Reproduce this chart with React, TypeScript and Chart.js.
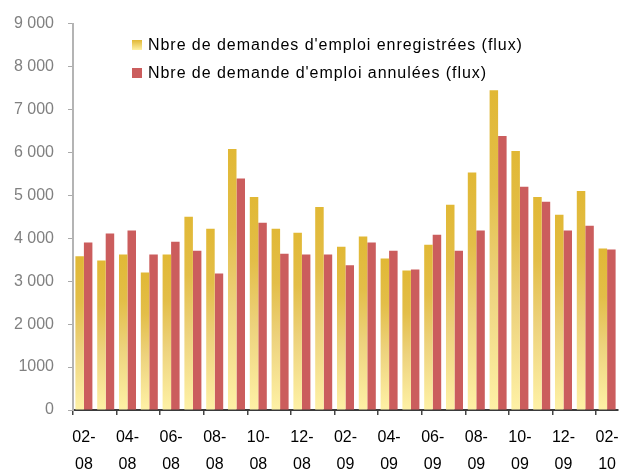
import { useEffect, useRef } from 'react';
import { Chart, registerables } from 'chart.js';

Chart.register(...registerables);

const months = [
  '02-08', '03-08', '04-08', '05-08', '06-08', '07-08', '08-08', '09-08', '10-08', '11-08', '12-08', '01-09',
  '02-09', '03-09', '04-09', '05-09', '06-09', '07-09', '08-09', '09-09', '10-09', '11-09', '12-09', '01-10', '02-10',
];

const enregistrees = [
  3580, 3480, 3620, 3200, 3620, 4500, 4220, 6080, 4960, 4220, 4130, 4730,
  3800, 4040, 3530, 3250, 3850, 4780, 5530, 7450, 6030, 4960, 4550, 5100, 3760,
];

const annulees = [
  3900, 4110, 4180, 3620, 3920, 3710, 3180, 5390, 4360, 3640, 3620, 3620,
  3370, 3900, 3710, 3270, 4080, 3710, 4180, 6380, 5200, 4850, 4180, 4290, 3740,
];

const yTickLabels = ['0', '1000', '2 000', '3 000', '4 000', '5 000', '6 000', '7 000', '8 000', '9 000'];

const seriesNames = [
  "Nbre de demandes d'emploi enregistrées (flux)",
  "Nbre de demande d'emploi annulées (flux)",
];

const FONT = "'Liberation Sans', Arial, sans-serif";
const RED = '#CB5D5D';
const GOLD_TOP = '#E1B835';
const GOLD_MID = '#EDD27C';
const GOLD_BOTTOM = '#FEF1A6';

export default function App() {
  const ref = useRef<HTMLCanvasElement>(null);

  useEffect(() => {
    const canvas = ref.current;
    if (!canvas) return;
    const chart = new Chart(canvas, {
      type: 'bar',
      data: {
        labels: months,
        datasets: [
          {
            label: seriesNames[0],
            data: enregistrees,
            borderWidth: 0,
            backgroundColor: (ctx: any) => {
              const ch = ctx.chart;
              if (!ch.chartArea || ctx.type !== 'data' || !ch.scales.y) return GOLD_TOP;
              const v = ctx.parsed ? ctx.parsed.y : ctx.raw;
              const top = ch.scales.y.getPixelForValue(v);
              const bottom = ch.scales.y.getPixelForValue(0);
              if (!isFinite(top) || !isFinite(bottom) || top === bottom) return GOLD_TOP;
              const g = ch.ctx.createLinearGradient(0, top, 0, bottom);
              g.addColorStop(0, GOLD_TOP);
              g.addColorStop(0.3, '#E3BE48');
              g.addColorStop(0.6, GOLD_MID);
              g.addColorStop(1, GOLD_BOTTOM);
              return g;
            },
          },
          {
            label: seriesNames[1],
            data: annulees,
            borderWidth: 0,
            backgroundColor: RED,
          },
        ],
      },
      options: {
        animation: false,
        responsive: false,
        maintainAspectRatio: false,
        layout: { padding: { top: 22, right: 11, left: 0, bottom: 0 } },
        plugins: { legend: { display: false }, tooltip: { enabled: false } },
        datasets: { bar: { categoryPercentage: 0.78, barPercentage: 1 } },
        scales: {
          x: {
            offset: true,
            grid: {
              offset: true,
              drawOnChartArea: false,
              tickLength: 5,
              lineWidth: 1.5,
              color: (c: any) =>
                typeof c.index === 'number' && c.index % 2 === 0 && c.index < months.length ? '#444444' : 'rgba(0,0,0,0)',
            },
            border: { color: '#3a3a3a', width: 2 },
            ticks: {
              autoSkip: false,
              maxRotation: 0,
              minRotation: 0,
              color: '#000000',
              padding: 9,
              font: { family: FONT, size: 16, lineHeight: 1.7 },
              callback: (_v: any, i: number) =>
                i % 2 === 0 ? [months[i].slice(0, 3), months[i].slice(3)] : '',
            },
            afterFit: (s: any) => {
              s.height = 59;
            },
          },
          y: {
            min: 0,
            max: 9000,
            grid: { drawOnChartArea: false, tickLength: 5, color: '#aaaaaa' },
            border: { color: '#b4b4b4', width: 2 },
            ticks: {
              stepSize: 1000,
              color: '#808080',
              padding: 14,
              font: { family: FONT, size: 16 },
              callback: (v: any) => yTickLabels[Math.round(Number(v) / 1000)],
            },
            afterFit: (s: any) => {
              s.width = 73;
            },
          },
        },
      },
    });
    return () => chart.destroy();
  }, []);

  const legendRow = (swatch: any, text: string) => (
    <div style={{ display: 'flex', alignItems: 'center', height: 28, whiteSpace: 'nowrap' }}>
      <span style={{ display: 'inline-block', width: 10, height: 10, marginRight: 6, ...swatch }} />
      <span>{text}</span>
    </div>
  );

  return (
    <div style={{ position: 'absolute', left: 0, top: 0, width: 629, height: 469, background: '#ffffff' }}>
      <canvas ref={ref} width={629} height={469} style={{ display: 'block', width: 629, height: 469 }} />
      <div
        style={{
          position: 'absolute',
          left: 132,
          top: 31,
          fontFamily: FONT,
          fontSize: 16,
          letterSpacing: '0.95px',
          color: '#000000',
          lineHeight: '28px',
        }}
      >
        {legendRow({ background: `linear-gradient(to bottom, ${GOLD_TOP}, ${GOLD_BOTTOM})` }, seriesNames[0])}
        {legendRow({ background: RED }, seriesNames[1])}
      </div>
    </div>
  );
}
